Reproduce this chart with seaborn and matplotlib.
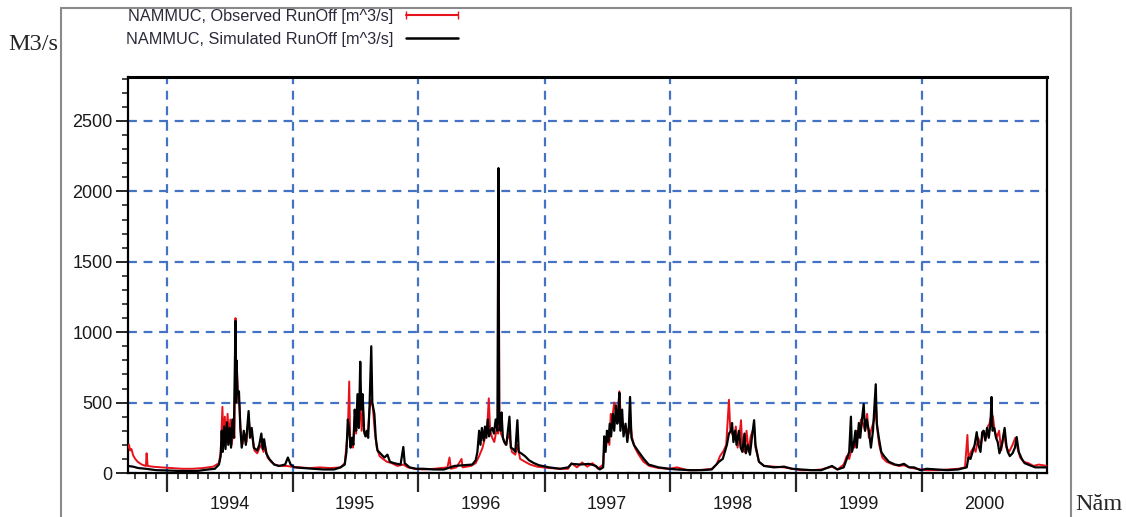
import matplotlib
matplotlib.use("Agg")
import matplotlib.pyplot as plt
import matplotlib.dates as mdates
from matplotlib.lines import Line2D
from matplotlib.patches import Rectangle
from matplotlib.ticker import MultipleLocator, FuncFormatter
import seaborn as sns
import pandas as pd

# ---------------- data ----------------
obs_dates = [
    "1993-09-10", "1993-09-13", "1993-09-16", "1993-09-20", "1993-09-25", "1993-10-01", "1993-10-08",
    "1993-10-20", "1993-11-01", "1993-11-03", "1993-11-06", "1993-11-20", "1993-12-15",
    "1994-01-15", "1994-02-15", "1994-03-15", "1994-04-15", "1994-05-15", "1994-06-01", "1994-06-06",
    "1994-06-11", "1994-06-14", "1994-06-18", "1994-06-22", "1994-06-26", "1994-06-30", "1994-07-04",
    "1994-07-08", "1994-07-12", "1994-07-16", "1994-07-19", "1994-07-21", "1994-07-23", "1994-07-26",
    "1994-07-30", "1994-08-03", "1994-08-08", "1994-08-14", "1994-08-20", "1994-08-26", "1994-08-31",
    "1994-09-06", "1994-09-12", "1994-09-20", "1994-09-27", "1994-10-03", "1994-10-08", "1994-10-14",
    "1994-10-20", "1994-10-30", "1994-11-10", "1994-11-25", "1994-12-15", "1994-12-28",
    "1995-01-20", "1995-02-20", "1995-03-20", "1995-04-20", "1995-05-20", "1995-06-01", "1995-06-06",
    "1995-06-10", "1995-06-14", "1995-06-17", "1995-06-21", "1995-06-25", "1995-06-30", "1995-07-04",
    "1995-07-08", "1995-07-12", "1995-07-16", "1995-07-20", "1995-07-24", "1995-07-28", "1995-08-02",
    "1995-08-07", "1995-08-12", "1995-08-17", "1995-08-21", "1995-08-27", "1995-09-02", "1995-09-10",
    "1995-09-20", "1995-10-01", "1995-10-15", "1995-11-01", "1995-11-18", "1995-12-01", "1995-12-20",
    "1996-01-15", "1996-02-15", "1996-03-25", "1996-03-31", "1996-04-04", "1996-04-20", "1996-05-05",
    "1996-05-08", "1996-06-01", "1996-06-15", "1996-06-25", "1996-07-05", "1996-07-12", "1996-07-18",
    "1996-07-23", "1996-07-27", "1996-08-02", "1996-08-08", "1996-08-14", "1996-08-19", "1996-08-21",
    "1996-08-23", "1996-08-27", "1996-09-02", "1996-09-10", "1996-09-20", "1996-09-28", "1996-10-08",
    "1996-10-14", "1996-10-22", "1996-11-05", "1996-11-20", "1996-12-10",
    "1997-01-15", "1997-02-15", "1997-03-10", "1997-03-20", "1997-04-05", "1997-04-20", "1997-05-05",
    "1997-05-20", "1997-06-05", "1997-06-20", "1997-06-24", "1997-06-28", "1997-07-03", "1997-07-08",
    "1997-07-12", "1997-07-16", "1997-07-22", "1997-07-28", "1997-08-02", "1997-08-06", "1997-08-10",
    "1997-08-15", "1997-08-20", "1997-08-26", "1997-09-02", "1997-09-07", "1997-09-12", "1997-09-20",
    "1997-10-01", "1997-10-15", "1997-11-01", "1997-11-28", "1997-12-27",
    "1998-01-20", "1998-02-20", "1998-03-20", "1998-04-15", "1998-05-01", "1998-05-15", "1998-05-25",
    "1998-06-05", "1998-06-12", "1998-06-20", "1998-06-24", "1998-06-29", "1998-07-05", "1998-07-10",
    "1998-07-15", "1998-07-20", "1998-07-25", "1998-07-29", "1998-08-04", "1998-08-10", "1998-08-16",
    "1998-08-22", "1998-08-28", "1998-09-01", "1998-09-05", "1998-09-15", "1998-09-30", "1998-10-29",
    "1998-11-27", "1998-12-20",
    "1999-01-15", "1999-02-15", "1999-03-15", "1999-04-15", "1999-05-01", "1999-05-19", "1999-05-28",
    "1999-06-04", "1999-06-09", "1999-06-14", "1999-06-20", "1999-06-26", "1999-07-02", "1999-07-08",
    "1999-07-14", "1999-07-20", "1999-07-26", "1999-07-31", "1999-08-06", "1999-08-12", "1999-08-16",
    "1999-08-20", "1999-08-25", "1999-08-30", "1999-09-08", "1999-09-20", "1999-10-10", "1999-10-27",
    "1999-11-10", "1999-11-25", "1999-12-15",
    "2000-01-15", "2000-02-15", "2000-03-15", "2000-04-15", "2000-05-05", "2000-05-12", "2000-05-15",
    "2000-05-22", "2000-05-30", "2000-06-05", "2000-06-12", "2000-06-20", "2000-06-28", "2000-07-05",
    "2000-07-10", "2000-07-15", "2000-07-21", "2000-07-25", "2000-07-30", "2000-08-05", "2000-08-12",
    "2000-08-18", "2000-08-26", "2000-09-02", "2000-09-10", "2000-09-20", "2000-09-28", "2000-10-04",
    "2000-10-12", "2000-10-22", "2000-11-05", "2000-11-20", "2000-12-05", "2000-12-29",
]
obs_values = [
    180, 200, 160, 170, 125, 100, 80,
    60, 50, 140, 50, 45, 40,
    35, 30, 30, 35, 45, 70, 150,
    470, 200, 400, 220, 420, 230, 380,
    200, 300, 250, 1100, 500, 750, 550,
    500, 300, 200, 280, 220, 400, 280,
    250, 160, 140, 180, 200, 150, 180,
    110, 80, 60, 50, 50, 45,
    40, 35, 40, 35, 40, 70, 200,
    300, 650, 200, 220, 180, 400, 280,
    480, 350, 500, 300, 450, 280, 260,
    280, 450, 520, 480, 300, 180, 120,
    100, 80, 70, 50, 60, 40, 30,
    25, 30, 40, 110, 30, 40, 100,
    40, 50, 70, 120, 180, 250, 300,
    530, 300, 250, 220, 300, 280, 1740,
    350, 280, 250, 200, 280, 150, 130,
    200, 100, 80, 60, 45,
    35, 30, 30, 70, 40, 75, 45,
    70, 30, 60, 250, 180, 280, 200,
    420, 380, 500, 420, 450, 580, 400,
    350, 300, 320, 280, 350, 250, 180,
    130, 80, 50, 35, 30,
    40, 20, 20, 25, 30, 60, 120,
    160, 200, 520, 300, 280, 250, 330,
    180, 250, 375, 180, 150, 300, 150,
    260, 300, 320, 180, 80, 50, 45,
    40, 30,
    20, 20, 25, 45, 25, 60, 120,
    100, 150, 220, 180, 300, 250, 380,
    350, 300, 420, 250, 300, 350, 380,
    500, 300, 200, 110, 80, 60, 50,
    55, 40, 30,
    20, 20, 25, 30, 40, 270, 100,
    150, 180, 150, 250, 200, 300, 250,
    330, 350, 420, 400, 300, 250, 300,
    160, 280, 180, 150, 200, 250, 180,
    110, 80, 70, 50, 60, 50,
]

sim_dates = [
    "1993-09-10", "1993-09-25", "1993-10-10", "1993-11-01", "1993-12-01",
    "1994-01-01", "1994-02-01", "1994-03-01", "1994-04-01", "1994-05-01", "1994-05-20", "1994-06-01",
    "1994-06-06", "1994-06-09", "1994-06-12", "1994-06-16", "1994-06-20", "1994-06-24", "1994-06-28",
    "1994-07-02", "1994-07-06", "1994-07-10", "1994-07-14", "1994-07-19", "1994-07-21", "1994-07-22",
    "1994-07-25", "1994-07-29", "1994-08-02", "1994-08-06", "1994-08-12", "1994-08-18", "1994-08-26",
    "1994-08-30", "1994-09-04", "1994-09-10", "1994-09-20", "1994-09-26", "1994-10-02", "1994-10-06",
    "1994-10-10", "1994-10-16", "1994-10-25", "1994-11-08", "1994-11-22", "1994-12-10", "1994-12-18",
    "1994-12-26",
    "1995-01-06", "1995-02-01", "1995-03-01", "1995-04-01", "1995-05-01", "1995-05-20", "1995-06-01",
    "1995-06-06", "1995-06-10", "1995-06-14", "1995-06-18", "1995-06-22", "1995-06-26", "1995-06-30",
    "1995-07-04", "1995-07-08", "1995-07-12", "1995-07-16", "1995-07-19", "1995-07-23", "1995-07-27",
    "1995-07-31", "1995-08-04", "1995-08-08", "1995-08-12", "1995-08-17", "1995-08-20", "1995-08-26",
    "1995-08-30", "1995-09-04", "1995-09-12", "1995-09-24", "1995-10-03", "1995-10-10", "1995-10-22",
    "1995-11-10", "1995-11-18", "1995-11-22", "1995-12-06", "1995-12-25",
    "1996-01-15", "1996-02-15", "1996-03-15", "1996-04-14", "1996-05-10", "1996-06-05", "1996-06-15",
    "1996-06-20", "1996-06-25", "1996-06-29", "1996-07-03", "1996-07-08", "1996-07-12", "1996-07-16",
    "1996-07-20", "1996-07-24", "1996-07-28", "1996-08-02", "1996-08-07", "1996-08-12", "1996-08-17",
    "1996-08-20", "1996-08-22", "1996-08-26", "1996-08-29", "1996-09-02", "1996-09-06", "1996-09-12",
    "1996-09-21", "1996-09-25", "1996-10-02", "1996-10-08", "1996-10-14", "1996-10-18", "1996-10-25",
    "1996-11-05", "1996-11-17", "1996-12-01", "1996-12-16",
    "1997-01-14", "1997-02-15", "1997-03-10", "1997-03-20", "1997-04-15", "1997-05-10", "1997-05-30",
    "1997-06-10", "1997-06-20", "1997-06-23", "1997-06-27", "1997-07-01", "1997-07-05", "1997-07-09",
    "1997-07-13", "1997-07-18", "1997-07-22", "1997-07-27", "1997-07-31", "1997-08-03", "1997-08-06",
    "1997-08-09", "1997-08-14", "1997-08-18", "1997-08-24", "1997-08-29", "1997-09-02", "1997-09-06",
    "1997-09-10", "1997-09-17", "1997-10-01", "1997-10-16", "1997-10-30", "1997-11-28", "1997-12-27",
    "1998-01-20", "1998-03-01", "1998-04-01", "1998-05-01", "1998-05-22", "1998-06-02", "1998-06-08",
    "1998-06-14", "1998-06-20", "1998-06-26", "1998-06-29", "1998-07-03", "1998-07-08", "1998-07-12",
    "1998-07-19", "1998-07-24", "1998-07-29", "1998-08-04", "1998-08-08", "1998-08-14", "1998-08-20",
    "1998-08-26", "1998-09-01", "1998-09-05", "1998-09-15", "1998-09-30", "1998-10-29", "1998-11-27",
    "1998-12-20",
    "1999-01-15", "1999-02-15", "1999-03-15", "1999-04-15", "1999-05-01", "1999-05-19", "1999-05-28",
    "1999-06-04", "1999-06-09", "1999-06-12", "1999-06-17", "1999-06-22", "1999-06-26", "1999-07-02",
    "1999-07-06", "1999-07-11", "1999-07-16", "1999-07-20", "1999-07-25", "1999-07-31", "1999-08-06",
    "1999-08-12", "1999-08-16", "1999-08-20", "1999-08-23", "1999-08-29", "1999-09-05", "1999-09-13",
    "1999-09-27", "1999-10-15", "1999-10-27", "1999-11-10", "1999-11-25", "1999-12-09", "1999-12-28",
    "2000-01-15", "2000-02-15", "2000-03-15", "2000-04-15", "2000-05-10", "2000-05-15", "2000-05-21",
    "2000-05-27", "2000-06-02", "2000-06-08", "2000-06-13", "2000-06-19", "2000-06-24", "2000-06-28",
    "2000-07-03", "2000-07-08", "2000-07-13", "2000-07-18", "2000-07-21", "2000-07-24", "2000-07-29",
    "2000-08-03", "2000-08-08", "2000-08-13", "2000-08-20", "2000-08-28", "2000-09-02", "2000-09-06",
    "2000-09-12", "2000-09-20", "2000-09-27", "2000-10-02", "2000-10-08", "2000-10-17", "2000-10-25",
    "2000-11-09", "2000-11-25", "2000-12-29",
]
sim_values = [
    50, 45, 35, 30, 20,
    18, 15, 14, 15, 25, 30, 60,
    120, 300, 150, 330, 170, 360, 200,
    320, 180, 380, 250, 1080, 500, 800,
    560, 580, 320, 180, 300, 200, 440,
    250, 320, 180, 160, 200, 280, 170,
    240, 140, 100, 60, 50, 60, 110,
    60,
    40, 35, 30, 25, 25, 40, 60,
    150, 380, 300, 180, 250, 200, 450,
    300, 560, 320, 790, 450, 560, 300,
    260, 300, 250, 480, 900, 500, 420,
    250, 160, 140, 110, 130, 80, 70,
    60, 185, 70, 40, 30,
    30, 25, 25, 50, 55, 60, 90,
    150, 300, 200, 320, 230, 330, 250,
    380, 260, 300, 320, 280, 380, 300,
    2165, 400, 300, 430, 250, 220, 200,
    400, 180, 170, 150, 375, 150, 140,
    120, 90, 70, 55,
    40, 30, 40, 65, 60, 65, 50,
    25, 40, 260, 150, 300, 220, 350,
    260, 420, 300, 480, 350, 400, 570,
    300, 450, 260, 350, 220, 300, 540,
    250, 200, 150, 100, 60, 40, 30,
    25, 20, 20, 25, 80, 100, 150,
    200, 280, 300, 355, 220, 300, 200,
    300, 180, 150, 280, 140, 200, 130,
    260, 375, 200, 80, 50, 40, 45,
    30,
    25, 20, 20, 50, 25, 40, 100,
    150, 400, 150, 200, 300, 180, 355,
    250, 380, 490, 300, 380, 300, 180,
    300, 470, 630, 350, 250, 150, 120,
    80, 60, 55, 65, 40, 40, 20,
    30, 25, 20, 25, 40, 110, 100,
    150, 200, 290, 200, 150, 290, 300,
    230, 320, 250, 350, 540, 300, 320,
    250, 220, 140, 200, 320, 200, 150,
    120, 140, 180, 255, 150, 100, 70,
    55, 40, 40,
]

series_labels = ["NAMMUC, Observed RunOff [m^3/s]", "NAMMUC, Simulated RunOff [m^3/s]"]
y_ticks = [0, 500, 1000, 1500, 2000, 2500]
y_label = "M3/s"
x_label = "Năm"

# ---------------- figure ----------------
sns.set_style("white")
plt.rcParams["font.family"] = ["Liberation Sans", "DejaVu Sans"]

fig = plt.figure(figsize=(11.26, 5.17), dpi=100)
ax = fig.add_axes([128 / 1126, 1 - 473 / 517, (1047 - 128) / 1126, (473 - 77) / 517])

obs_df = pd.DataFrame({"date": pd.to_datetime(obs_dates), "value": obs_values})
sim_df = pd.DataFrame({"date": pd.to_datetime(sim_dates), "value": sim_values})

red = "#e8121a"
sns.lineplot(data=obs_df, x="date", y="value", color=red, lw=1.4, ax=ax, estimator=None, zorder=3)
sns.lineplot(data=sim_df, x="date", y="value", color="black", lw=1.6, ax=ax, estimator=None, zorder=4)

ax.set_xlim(pd.Timestamp("1993-09-10"), pd.Timestamp("2000-12-29"))
ax.set_ylim(0, 2812)
ax.set_xlabel("")
ax.set_ylabel("")

# grid
grid_col = "#4472C4"
ax.set_yticks(y_ticks)
ax.yaxis.set_minor_locator(MultipleLocator(100))
ax.xaxis.set_major_locator(mdates.YearLocator())
ax.xaxis.set_minor_locator(mdates.MonthLocator())
ax.xaxis.set_major_formatter(FuncFormatter(lambda v, p: ""))
ax.xaxis.set_minor_formatter(
    FuncFormatter(lambda v, p: str(mdates.num2date(v).year) if mdates.num2date(v).month == 7 else "")
)
ax.grid(True, which="major", axis="both", color=grid_col, lw=1.6, ls=(0, (4, 3)), zorder=1)

tick_col = "#1a1a1a"
ax.tick_params(axis="y", which="major", direction="out", length=9, width=1.4, pad=2,
               labelsize=13, labelcolor=tick_col, left=True)
ax.tick_params(axis="y", which="minor", direction="out", length=4.5, width=1.2, left=True)
ax.tick_params(axis="x", which="major", direction="out", length=14, width=1.6, bottom=True)
ax.tick_params(axis="x", which="minor", direction="out", length=4.5, width=1.2, pad=12,
               labelsize=13, labelcolor=tick_col, bottom=True)

for s in ax.spines.values():
    s.set_visible(True)
    s.set_color("black")
    s.set_linewidth(1.6)
ax.spines["top"].set_linewidth(2.2)

# legend (handles on the right of the text)
handles = [
    Line2D([], [], color=red, lw=1.5, marker="|", markersize=6),
    Line2D([], [], color="black", lw=1.8),
]
fig.legend(handles, series_labels, loc="upper left", bbox_to_anchor=(126 / 1126, 1 - 9 / 517),
           frameon=False, markerfirst=False, fontsize=11.7, handlelength=3.8, handletextpad=0.5,
           labelspacing=0.5, borderpad=0, borderaxespad=0, numpoints=2,
           labelcolor="#2a2a3a")

# outer grey frame
fig.add_artist(Rectangle((61 / 1126, -0.1), (1071 - 61) / 1126, 1.1 - 8 / 517,
                         transform=fig.transFigure, fill=False, edgecolor="#8a8a8a", lw=1.5))

fig.text(8 / 1126, 1 - 44 / 517, y_label, family=["Liberation Serif", "DejaVu Serif"],
         fontsize=17.5, va="center", ha="left")
fig.text(1075 / 1126, 1 - 505 / 517, x_label, family=["Liberation Serif", "DejaVu Serif"],
         fontsize=17.5, va="center", ha="left")

fig.savefig("out.png", dpi=100)
